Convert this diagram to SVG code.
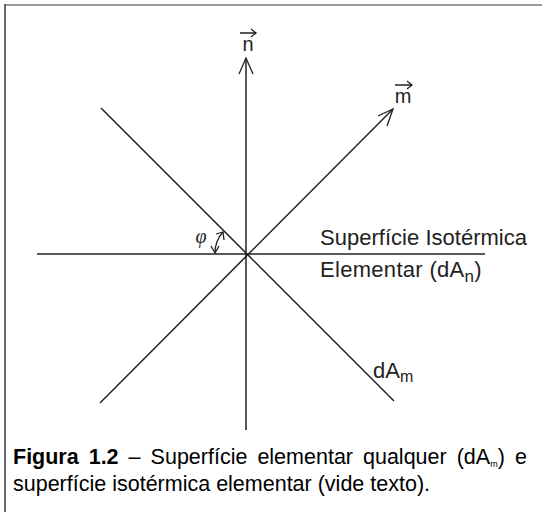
<svg xmlns="http://www.w3.org/2000/svg" width="542" height="512" viewBox="0 0 542 512">
<style>
.ax{stroke:#222;stroke-width:1.5;fill:none}
.ah{stroke:#222;stroke-width:1.3;fill:none}
.lb{font-family:"Liberation Sans",Arial,sans-serif;fill:#222}
.cap{font-family:"Liberation Sans",Arial,sans-serif;fill:#000;font-size:21.5px}
</style>
<rect width="542" height="512" fill="#fff"/>
<g id="frame">
<line x1="5" y1="5" x2="542" y2="5" stroke="#999" stroke-width="2"/>
<line x1="5" y1="4" x2="5" y2="512" stroke="#444" stroke-width="1.6"/>
</g>
<g id="connectors">
<line class="ax" x1="246" y1="58" x2="246" y2="430"/>
<line class="ax" x1="37" y1="254" x2="485" y2="254"/>
<line class="ax" x1="100" y1="403" x2="393" y2="109"/>
<line class="ax" x1="101" y1="108" x2="394" y2="401"/>
<path class="ah" d="M239,74 L246,58 L253,74"/>
<path class="ah" d="M378,116 L393,109 L387,126"/>
<path class="ah" d="M215,253 A31,31 0 0 1 223,232"/>
<path class="ah" d="M211,246 L215,253 L219,246"/>
<path class="ah" d="M216,234 L223,232 L224,240"/>
</g>
<g id="n-label">
<text class="lb" x="248" y="51" font-size="20" text-anchor="middle">n</text>
<path class="ah" d="M240,33 L256,33 M251,29 L256,33 L251,37"/>
</g>
<g id="m-label">
<text class="lb" x="403" y="103" font-size="20" text-anchor="middle">m</text>
<path class="ah" d="M395,85 L412,85 M407,81 L412,85 L407,89"/>
</g>
<g id="phi-label">
<text x="201" y="243" font-family="Liberation Serif,serif" font-style="italic" font-size="20" fill="#222" text-anchor="middle">φ</text>
</g>
<g id="surface-label">
<text class="lb" x="320" y="245" font-size="22" textLength="207">Superfície Isotérmica</text>
<text class="lb" x="320" y="277" font-size="22" letter-spacing="0.3">Elementar (dA<tspan font-size="17" dy="5">n</tspan><tspan dy="-5">)</tspan></text>
</g>
<g id="dAm-label">
<text class="lb" x="373" y="378" font-size="22">dA<tspan font-size="16" dy="4">m</tspan></text>
</g>
<g id="caption">
<text class="cap" y="464"><tspan x="13" font-weight="bold">Figura</tspan><tspan x="88.7" font-weight="bold">1.2</tspan><tspan x="128.6">–</tspan><tspan x="150.6">Superfície</tspan><tspan x="257.4">elementar</tspan><tspan x="363">qualquer</tspan><tspan x="456.7">(dA</tspan><tspan font-size="9" dy="3">m</tspan><tspan dy="-3">)</tspan></text>
<text class="cap" x="527" y="464" text-anchor="end">e</text>
<text class="cap" x="13" y="491">superfície isotérmica elementar (vide texto).</text>
</g>
</svg>
